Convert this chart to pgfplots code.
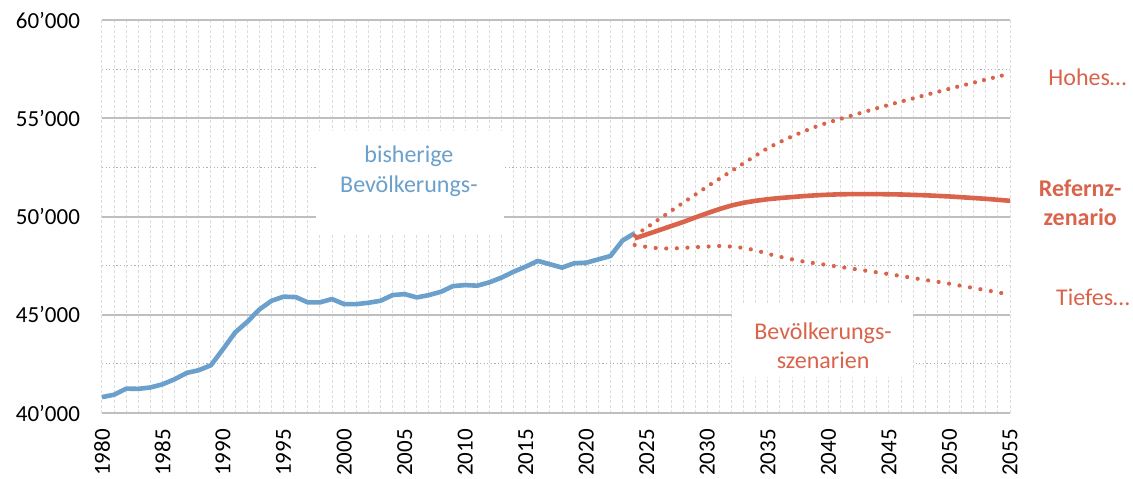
\documentclass[border=0pt]{standalone}
\usepackage{pgfplots}
\pgfplotsset{compat=1.18}
\usepackage{fontspec}
\setmainfont{Carlito}
\definecolor{cblue}{RGB}{106,160,203}
\definecolor{cred}{RGB}{218,99,75}
\definecolor{gmaj}{RGB}{191,191,191}
\definecolor{gmin}{RGB}{175,175,175}
\definecolor{gvert}{RGB}{220,220,220}

\pgfplotstableread{
year pop
1980 40810
1981 40930
1982 41240
1983 41230
1984 41300
1985 41460
1986 41720
1987 42040
1988 42180
1989 42430
1990 43250
1991 44100
1992 44640
1993 45270
1994 45710
1995 45920
1996 45900
1997 45630
1998 45630
1999 45800
2000 45540
2001 45540
2002 45610
2003 45710
2004 46000
2005 46050
2006 45880
2007 46000
2008 46170
2009 46460
2010 46510
2011 46480
2012 46650
2013 46890
2014 47190
2015 47450
2016 47740
2017 47570
2018 47400
2019 47620
2020 47650
2021 47820
2022 47990
2023 48780
2024 49150
}\histdata

\pgfplotstableread{
year ref high low
2024 48890 49030 48550
2025 49090 49440 48450
2026 49300 49860 48380
2027 49510 50280 48370
2028 49720 50700 48400
2029 49950 51110 48440
2030 50170 51530 48470
2031 50380 51920 48500
2032 50560 52320 48470
2033 50700 52710 48400
2034 50800 53100 48280
2035 50880 53490 48100
2036 50940 53790 47950
2037 50990 54080 47820
2038 51040 54340 47700
2039 51080 54580 47610
2040 51110 54790 47520
2041 51130 54970 47430
2042 51140 55150 47340
2043 51140 55330 47250
2044 51140 55510 47160
2045 51130 55680 47070
2046 51120 55850 46970
2047 51100 56010 46870
2048 51080 56180 46770
2049 51050 56340 46680
2050 51020 56500 46580
2051 50980 56660 46470
2052 50940 56810 46360
2053 50900 56970 46250
2054 50850 57120 46140
2055 50800 57270 46020
}\scendata

\begin{document}
\begin{tikzpicture}
\begin{axis}[
  scale only axis,
  width=454pt, height=196.5pt,
  xmin=1980, xmax=2055, ymin=40000, ymax=60000,
  clip=false,
  scaled x ticks=false, scaled y ticks=false,
  axis line style={draw=none},
  major tick length=0pt, minor tick length=0pt,
  xtick={1980,1985,...,2055},
  xticklabels={1980,1985,1990,1995,2000,2005,2010,2015,2020,2025,2030,2035,2040,2045,2050,2055},
  minor x tick num=4,
  ytick={40000,45000,50000,55000,60000},
  yticklabels={40’000,45’000,50’000,55’000,60’000},
  minor y tick num=1,
  xmajorgrids, xminorgrids, ymajorgrids, yminorgrids,
  major x grid style={draw=gvert, line width=0.5pt, dash pattern=on 1.5pt off 1pt},
  minor x grid style={draw=gvert, line width=0.5pt, dash pattern=on 1.5pt off 1pt},
  major y grid style={draw=gmaj, line width=1pt, solid},
  minor y grid style={draw=gmin, line width=0.6pt, dash pattern=on 0.6pt off 1.2pt},
  tick label style={font=\fontsize{11.5}{13}\selectfont, text=black},
  yticklabel style={anchor=east, xshift=-7.5pt},
  xticklabel style={rotate=90, anchor=east, xshift=-4.5pt},
]
\coordinate (bl) at (rel axis cs:0,0);
\coordinate (tr) at (rel axis cs:1,1);
% white boxes covering the grid
\fill[white] (axis cs:1997.7,49082) rectangle (axis cs:2013.2,54337);
\fill[white] (axis cs:2032.0,41837) rectangle (axis cs:2047.0,45510);
\node[align=center, text=cblue, font=\fontsize{12}{15}\selectfont] at (axis cs:2005.35,52296) {bisherige\\Bevölkerungs-};
\node[align=center, text=cred, font=\fontsize{12}{14.5}\selectfont] at (axis cs:2039.56,43418) {Bevölkerungs-\\szenarien};

\addplot[cblue, line width=2.3pt, line join=round] table[x=year, y=pop] {\histdata};
\addplot[cred, line width=2.1pt, line cap=round, dash pattern=on 0pt off 4.6pt] table[x=year, y=high] {\scendata};
\addplot[cred, line width=2.1pt, line cap=round, dash pattern=on 0pt off 5.3pt] table[x=year, y=low] {\scendata};
\addplot[cred, line width=2.3pt, line join=round] table[x=year, y=ref] {\scendata};

\node[text=cred, font=\fontsize{12}{14.5}\selectfont] at (axis cs:2061.4,57090) {Hohes…};
\node[text=cred, align=center, font=\fontsize{12}{14.5}\selectfont\bfseries] at (axis cs:2060.8,50714) {Refernz-\\zenario};
\node[text=cred, font=\fontsize{12}{14.5}\selectfont] at (axis cs:2061.85,45870) {Tiefes…};
\end{axis}
\pgfresetboundingbox
\path[use as bounding box] ([shift={(-51pt,-32.5pt)}]bl) rectangle ([shift={(61.5pt,10pt)}]tr);
\end{tikzpicture}
\end{document}
